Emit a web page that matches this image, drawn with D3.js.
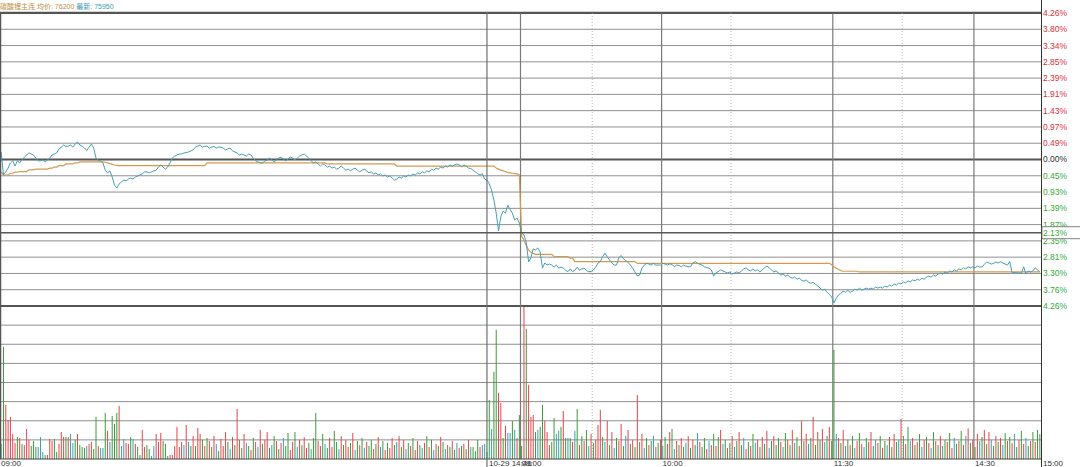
<!DOCTYPE html>
<html>
<head>
<meta charset="utf-8">
<script src="https://cdn.jsdelivr.net/npm/d3@7"></script>
<style>
body { margin: 0; background: #fff; }
svg { display: block; }
</style>
</head>
<body>
<svg id="graphic" width="1080" height="467"></svg>
<script>
// two sessions of 225 one-minute bars (10-28 and 10-29)
var N_BARS = 450;

var titleName = "碳酸锂主连";
var titleAvg = "均价: 76200";
var titleLast = "最新: 75950";

// right axis labels, top to bottom (percent vs previous settle)
var pctLabels = ["4.26%", "3.80%", "3.34%", "2.85%", "2.39%", "1.91%", "1.43%", "0.97%", "0.49%",
	"0.00%", "0.45%", "0.93%", "1.39%", "1.87%", "2.35%", "2.81%", "3.30%", "3.76%", "4.26%"];

var timeLabels = ["09:00", "09:00", "10:00", "11:30", "14:30", "15:00"];
var timeIndex = [0, 225, 286, 360, 421, 450];
var solidLines = [225, 286, 360, 421];
var dottedLines = [256, 316, 390];

// crosshair
var crossIndex = 210.5;
var crossPct = -2.13;
var crossTimeLabel = "10-29 14:46";
var crossPctLabel = "2.13%";

// last price, % change per minute
var pricePct = [
	0.22, -0.45, -0.36, -0.25, -0.10, -0.04, -0.19, -0.04, -0.10, -0.01,
	0.07, 0.13, 0.19, 0.16, 0.13, 0.04, -0.04, -0.04, -0.01, -0.07,
	-0.01, 0.04, 0.13, 0.16, 0.19, 0.31, 0.36, 0.42, 0.38, 0.39,
	0.42, 0.36, 0.45, 0.51, 0.42, 0.39, 0.33, 0.26, 0.36, 0.45,
	0.33, 0.04, -0.03, -0.04, -0.10, -0.31, -0.39, -0.33, -0.51, -0.74,
	-0.83, -0.71, -0.65, -0.60, -0.62, -0.57, -0.54, -0.57, -0.51, -0.48,
	-0.45, -0.42, -0.36, -0.36, -0.39, -0.36, -0.33, -0.31, -0.22, -0.16,
	-0.22, -0.28, -0.22, -0.10, 0.04, 0.10, 0.13, 0.16, 0.16, 0.19,
	0.20, 0.22, 0.25, 0.28, 0.36, 0.39, 0.42, 0.36, 0.38, 0.39,
	0.33, 0.36, 0.38, 0.33, 0.36, 0.36, 0.33, 0.28, 0.31, 0.33,
	0.25, 0.22, 0.19, 0.13, 0.16, 0.13, 0.10, 0.16, 0.13, 0.04,
	-0.04, -0.07, -0.10, -0.10, -0.04, -0.01, 0.04, -0.01, -0.07, -0.01,
	0.04, 0.07, 0.01, -0.04, 0.01, 0.07, 0.04, -0.01, 0.04, 0.10,
	0.13, 0.16, 0.10, 0.04, -0.04, -0.10, -0.07, -0.13, -0.19, -0.13,
	-0.16, -0.22, -0.19, -0.25, -0.22, -0.28, -0.25, -0.19, -0.25, -0.31,
	-0.28, -0.33, -0.28, -0.25, -0.31, -0.36, -0.31, -0.28, -0.33, -0.39,
	-0.36, -0.42, -0.39, -0.45, -0.42, -0.48, -0.45, -0.51, -0.48, -0.54,
	-0.60, -0.57, -0.51, -0.54, -0.48, -0.51, -0.45, -0.48, -0.42, -0.45,
	-0.39, -0.42, -0.36, -0.39, -0.33, -0.36, -0.28, -0.31, -0.25, -0.28,
	-0.22, -0.25, -0.19, -0.22, -0.16, -0.19, -0.16, -0.13, -0.16, -0.21,
	-0.16, -0.19, -0.25, -0.26, -0.31, -0.36, -0.41, -0.45, -0.41, -0.57,
	-0.60, -0.71, -0.89, -1.18, -1.56, -2.08, -1.66, -1.50, -1.56, -1.33,
	-1.45, -1.56, -1.76, -1.70, -1.85,
	-2.14, -2.19, -2.42, -2.98, -2.86,
	-2.60, -2.63, -2.57, -2.69, -3.16, -3.01, -3.07, -3.04, -3.07, -3.13,
	-3.07, -3.16, -3.13, -3.16, -3.22, -3.26, -3.18, -3.26, -3.22, -3.13,
	-3.22, -3.18, -3.16, -3.23, -3.26, -3.26, -3.21, -3.13, -3.01, -2.97,
	-2.83, -2.72, -2.83, -2.92, -3.01, -3.07, -3.07, -2.86, -2.79, -2.89,
	-2.94, -2.99, -3.07, -3.16, -3.27, -3.39, -3.36, -3.16, -3.07, -3.02,
	-3.04, -3.07, -3.02, -3.07, -3.07, -3.07, -3.02, -3.04, -3.07, -3.04,
	-3.05, -3.12, -3.07, -3.08, -3.12, -3.07, -3.10, -3.12, -3.12, -3.01,
	-2.97, -3.02, -3.05, -3.07, -3.12, -3.14, -3.16, -3.21, -3.39, -3.29,
	-3.26, -3.21, -3.24, -3.27, -3.30, -3.27, -3.33, -3.30, -3.27, -3.30,
	-3.24, -3.18, -3.15, -3.21, -3.24, -3.18, -3.24, -3.21, -3.27, -3.21,
	-3.15, -3.10, -3.15, -3.21, -3.27, -3.24, -3.30, -3.36, -3.33, -3.39,
	-3.36, -3.42, -3.45, -3.42, -3.48, -3.45, -3.51, -3.54, -3.50, -3.57,
	-3.60, -3.57, -3.63, -3.68, -3.74, -3.80, -3.77, -3.86, -3.92, -4.00,
	-4.17, -4.03, -3.94, -3.89, -3.83, -3.86, -3.80, -3.86, -3.83, -3.77,
	-3.80, -3.74, -3.80, -3.77, -3.74, -3.77, -3.74, -3.77, -3.71, -3.74,
	-3.71, -3.74, -3.68, -3.71, -3.65, -3.68, -3.62, -3.65, -3.59, -3.62,
	-3.56, -3.59, -3.53, -3.56, -3.50, -3.53, -3.48, -3.51, -3.45, -3.48,
	-3.42, -3.39, -3.42, -3.36, -3.39, -3.33, -3.30, -3.33, -3.27, -3.30,
	-3.24, -3.27, -3.21, -3.24, -3.18, -3.21, -3.15, -3.18, -3.12, -3.15,
	-3.12, -3.15, -3.10, -3.13, -3.12, -3.05, -2.98, -3.01, -3.04, -3.02,
	-2.98, -3.01, -2.97, -3.01, -3.04, -3.07, -2.97, -3.29, -3.29, -3.29,
	-3.30, -3.30, -3.12, -3.33, -3.24, -3.27, -3.24, -3.15, -3.21, -3.27
];

// average price, stored as [pct, minutes] runs
var avgRuns = [
	[-0.36, 1], [-0.45, 3], [-0.40, 2], [-0.37, 2], [-0.35, 4], [-0.30, 3], [-0.28, 6],
	[-0.25, 2], [-0.22, 2], [-0.18, 3], [-0.13, 4], [-0.10, 2], [-0.07, 11],
	[-0.08, 1], [-0.10, 1], [-0.12, 1], [-0.14, 1], [-0.16, 1], [-0.17, 1],
	[-0.18, 38], [-0.10, 52], [-0.13, 30], [-0.19, 43],
	[-0.25, 1], [-0.28, 1], [-0.31, 1], [-0.33, 1], [-0.35, 1], [-0.38, 1],
	[-0.39, 1], [-0.40, 1], [-0.41, 1], [-0.42, 1], [-0.45, 1],
	[-2.24, 1], [-2.34, 1], [-2.50, 1], [-2.63, 1], [-2.70, 1], [-2.73, 1],
	[-2.76, 8], [-2.82, 7], [-2.87, 2], [-2.97, 27], [-3.02, 84],
	[-3.06, 1], [-3.12, 1], [-3.16, 1], [-3.20, 1], [-3.23, 1], [-3.25, 7], [-3.27, 79]
];

// volume per minute (lots)
var volumes = [
	79, 587, 283, 204, 220, 131, 84, 115, 110, 79,
	73, 157, 100, 68, 94, 63, 63, 115, 37, 21,
	21, 105, 94, 105, 37, 79, 141, 115, 115, 115,
	131, 84, 100, 131, 73, 63, 58, 68, 79, 89,
	52, 220, 68, 58, 58, 241, 147, 89, 225, 183,
	241, 278, 68, 105, 84, 79, 115, 105, 79, 63,
	21, 152, 63, 73, 52, 16, 68, 131, 89, 136,
	94, 79, 16, 21, 21, 68, 168, 63, 89, 73,
	178, 89, 68, 120, 68, 162, 131, 100, 68, 110,
	94, 63, 120, 79, 41, 105, 68, 141, 89, 52,
	115, 73, 262, 100, 58, 131, 84, 68, 47, 110,
	89, 63, 152, 79, 100, 141, 58, 73, 120, 94,
	52, 84, 110, 68, 136, 47, 89, 141, 63, 100,
	73, 115, 58, 84, 52, 110, 241, 94, 68, 131,
	79, 58, 110, 63, 147, 89, 52, 120, 73, 100,
	63, 84, 136, 47, 94, 73, 110, 58, 89, 68,
	100, 52, 79, 115, 63, 94, 47, 84, 58, 110,
	73, 89, 120, 63, 100, 52, 84, 68, 110, 47,
	94, 73, 58, 84, 120, 63, 100, 47, 79, 68,
	115, 89, 52, 73, 63, 94, 47, 84, 58, 68,
	79, 52, 100, 63, 63, 41, 100, 63, 73, 79,
	37, 309, 157, 456, 676, 346, 293, 110, 173, 136,
	136, 199, 152, 110, 230,
	68, 796, 681, 388, 220,
	230, 141, 152, 168, 283, 199, 141, 73, 89, 215,
	131, 147, 168, 251, 110, 110,
	110, 89, 147, 262, 73, 120, 94, 152, 68, 131,
	84, 100, 178, 257, 115, 89, 199, 73, 141, 58,
	110, 94, 183, 68, 120, 152, 79, 100, 63, 335,
	89, 131, 58, 110, 73, 94, 120, 63, 84, 100,
	68, 115, 79, 141, 157, 52, 94, 73, 110, 63,
	84, 120, 58, 100, 73, 136, 89, 63, 110, 52,
	94, 73, 131, 68, 115, 152, 79, 100, 58, 84,
	120, 63, 94, 141, 73, 110, 52, 89, 68, 131,
	84, 100, 63, 115, 79, 147, 58, 94, 120, 73,
	110, 89, 63, 136, 100, 73, 152, 84, 115, 68,
	199, 94, 131, 79, 110, 220, 73, 141, 100, 157,
	89, 120, 168, 94, 571, 131, 110, 84, 152, 68,
	100, 73, 120, 58, 94, 136, 79, 63, 110, 89,
	141, 68, 100, 84, 120, 58, 94, 73, 115, 63,
	131, 89, 100, 209, 120, 79, 168, 94, 110, 73,
	89, 131, 63, 100, 115, 84, 58, 141, 94, 73,
	120, 68, 100, 89, 136, 58, 110, 79, 94, 147,
	73, 120, 160, 84, 100, 63, 131, 94, 115, 152,
	79, 141, 100, 68, 120, 89, 110, 73, 136, 94,
	115, 84, 131, 63, 100, 147, 79, 110, 68, 94,
	141, 89, 152, 131
];

// r = up, g = down, b = flat
var volKinds = (
	"bgrrrrrgrg" + "rrrgggbbbg" + "rrrggrrrgr" + "bbgrgggbrr" + "ggrbbgrbgg" +
	"grbbrrgbrg" + "grrggbbrrr" + "gggrrrrrrb" + "rbgrgrrgrg" + "rgrbgrrrgb" +
	"rgrrgrbgrg" + "rbrgrrgbgr" + "grbggrrgbr" + "grrgbggrrg" + "bgrrggbrgr" +
	"rgrbgrgbrg" + "grgrbgrgrr" + "gbrgrbgrgr" + "rgbrgrgbrg" + "rgbrgrgbrg" +
	"rgrbgggrbb" + "ggbggrrgrb" + "bgbrg" +
	"grgrr" + "rgbggrrrgg" + "bbgrgb" +
	"grbgrgrgbr" + "grrrgbrgrb" + "grrgbrgrgr" + "grbgrgbrgr" + "bgrrgbrgrg" +
	"brgrgbrggr" + "brgrgrbgrg" + "rbgrgbrgrg" + "brgrgrbgrg" + "grbgrgrbgr" +
	"rgrbgrgrgr" + "bgrggbrgrb" + "grgbrgrbgr" + "rgbrgrgbrg" + "rgbrgrgbrg" +
	"rgbrgrbgrg" + "rbgrgrbgrg" + "rbrgrgrbgr" + "grbgrgrbgr" + "grbgrgrbgr" +
	"grgg"
).split("");


var kindColor = { r: "#e0474c", g: "#3d9a3d", b: "#3c9fb1" };

function expandRuns(runs) {
	var out = [];
	for (var i = 0; i < runs.length; i++) {
		for (var j = 0; j < runs[i][1]; j++) {
			out.push(runs[i][0]);
		}
	}
	return out;
}


function generateGraphic() {
	var svg = d3.select("#graphic");
	var left = 0, right = 1041;
	var priceTop = 13, priceBot = 306, volBot = 459;

	var x = d3.scaleLinear().domain([0, N_BARS]).range([left, right]);
	var y = d3.scaleLinear().domain([-4.26, 4.26]).range([priceBot, priceTop]);
	var yv = d3.scaleLinear().domain([0, 800]).range([volBot, priceBot]);

	var avgPct = expandRuns(avgRuns);
	var font = "'Liberation Sans', Arial, 'Noto Sans CJK SC', sans-serif";

	var grid = svg.append("g").attr("fill", "none");

	// price grid, one line per right-axis label
	var step = 8.52 / (pctLabels.length - 1);
	for (var k = 0; k < pctLabels.length; k++) {
		var v = 4.26 - k * step;
		var yy = y(v);
		var isZero = (k == 9), isEdge = (k == 0 || k == pctLabels.length - 1);
		grid.append("line")
			.attr("x1", left).attr("x2", right)
			.attr("y1", yy).attr("y2", yy)
			.attr("stroke", isZero || isEdge ? "#555" : "#8f8f8f")
			.attr("stroke-width", isZero || isEdge ? 2 : 1);

		svg.append("text")
			.attr("x", right + 2)
			.attr("y", yy)
			.attr("dy", "0.35em")
			.attr("font-family", font)
			.attr("font-size", "8.5px")
			.attr("fill", k < 9 ? "#e0303c" : (k == 9 ? "#333" : "#2fae3a"))
			.text(pctLabels[k]);
	}

	// volume grid
	for (var vv = 100; vv < 800; vv += 100) {
		grid.append("line")
			.attr("x1", left).attr("x2", right)
			.attr("y1", yv(vv)).attr("y2", yv(vv))
			.attr("stroke", "#8f8f8f")
			.attr("stroke-width", 1);
	}

	// time lines
	for (var i = 0; i < dottedLines.length; i++) {
		grid.append("line")
			.attr("x1", x(dottedLines[i])).attr("x2", x(dottedLines[i]))
			.attr("y1", priceTop).attr("y2", volBot)
			.attr("stroke", "#b5b5b5")
			.attr("stroke-dasharray", "1,2");
	}
	for (var i = 0; i < solidLines.length; i++) {
		grid.append("line")
			.attr("x1", x(solidLines[i])).attr("x2", x(solidLines[i]))
			.attr("y1", priceTop).attr("y2", volBot)
			.attr("stroke", "#7a7a7a")
			.attr("stroke-width", 1.2);
	}

	// volume bars
	svg.append("g").selectAll("rect")
		.data(volumes)
		.enter().append("rect")
			.attr("x", function(d, i) { return x(i + 0.5) - 0.5; })
			.attr("width", 1)
			.attr("y", function(d) { return yv(d); })
			.attr("height", function(d) { return volBot - yv(d); })
			.attr("fill", function(d, i) { return kindColor[volKinds[i]] || "#3c9fb1"; });

	// average and last price
	var line = d3.line()
		.x(function(d, i) { return x(i + 0.5); })
		.y(function(d) { return y(d); });

	svg.append("path")
		.datum(avgPct)
		.attr("fill", "none")
		.attr("stroke", "#d39a52")
		.attr("stroke-width", 1.2)
		.attr("d", line);

	svg.append("path")
		.datum(pricePct)
		.attr("fill", "none")
		.attr("stroke", "#449fb3")
		.attr("stroke-width", 1)
		.attr("d", line);

	// frame
	svg.append("line")
		.attr("x1", 0.5).attr("x2", 0.5).attr("y1", 12).attr("y2", volBot)
		.attr("stroke", "#555").attr("stroke-width", 1.5);
	svg.append("line")
		.attr("x1", left).attr("x2", right).attr("y1", 12.5).attr("y2", 12.5)
		.attr("stroke", "#555").attr("stroke-width", 1.5);
	svg.append("line")
		.attr("x1", left).attr("x2", right).attr("y1", volBot).attr("y2", volBot)
		.attr("stroke", "#444").attr("stroke-width", 1.2);
	svg.append("line")
		.attr("x1", right + 0.5).attr("x2", right + 0.5).attr("y1", 0).attr("y2", 467)
		.attr("stroke", "#333").attr("stroke-width", 1);

	// time labels
	for (var i = 0; i < timeLabels.length; i++) {
		svg.append("text")
			.attr("x", x(timeIndex[i]) + (i == timeLabels.length - 1 ? 2 : 1))
			.attr("y", 466)
			.attr("font-family", font)
			.attr("font-size", "8px")
			.attr("fill", "#333")
			.text(timeLabels[i]);
	}

	// crosshair
	var cx = x(crossIndex);
	svg.append("line")
		.attr("x1", cx).attr("x2", cx).attr("y1", 12).attr("y2", 467)
		.attr("stroke", "#6e6e6e").attr("stroke-width", 1.2);
	svg.append("line")
		.attr("x1", left).attr("x2", right).attr("y1", y(crossPct)).attr("y2", y(crossPct))
		.attr("stroke", "#5a5a5a").attr("stroke-width", 1.5);
	svg.append("text")
		.attr("x", cx + 2)
		.attr("y", 466)
		.attr("font-family", font)
		.attr("font-size", "8px")
		.attr("fill", "#333")
		.text(crossTimeLabel);

	svg.append("rect")
		.attr("x", right + 1).attr("y", y(crossPct) - 6)
		.attr("width", 1080 - right).attr("height", 12)
		.attr("fill", "#fff")
		.attr("stroke", "#666").attr("stroke-width", 0.8);
	svg.append("text")
		.attr("x", right + 2)
		.attr("y", y(crossPct))
		.attr("dy", "0.35em")
		.attr("font-family", font)
		.attr("font-size", "8.5px")
		.attr("fill", "#2fae3a")
		.text(crossPctLabel);

	// title
	var title = svg.append("text")
		.attr("x", 0)
		.attr("y", 9)
		.attr("font-family", font)
		.attr("font-size", "7px");
	title.append("tspan").attr("fill", "#c08a3c").text(titleName + " ");
	title.append("tspan").attr("fill", "#c08a3c").text(titleAvg + " ");
	title.append("tspan").attr("fill", "#3a9bab").text(titleLast);
}

generateGraphic();
</script>
</body>
</html>
